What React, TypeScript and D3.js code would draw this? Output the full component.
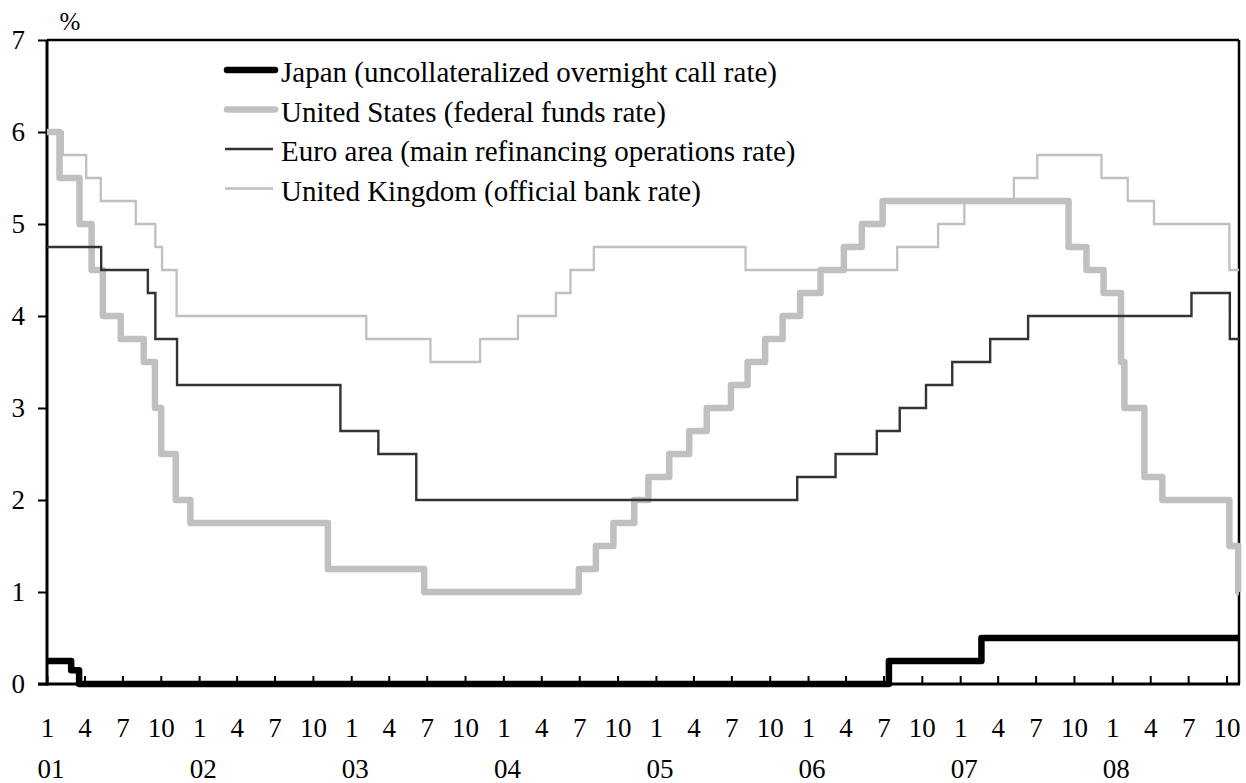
import { useEffect, useRef } from "react";
import * as d3 from "d3";

const MARGINS = {
  LEFT: 47,
  RIGHT: 7,
  TOP: 40,
  BOTTOM: 99,
};
const WIDTH = 1192; // plot width
const HEIGHT = 644; // plot height
const FONT = '"Liberation Serif", "Times New Roman", Times, serif';
const TICK_FONT_SIZE = 27;
const LEGEND_FONT_SIZE = 29;

const START_DATE = "2001-01-01";
const END_DATE = "2008-10-31";

// policy rate changes (date of change, new level in %)
const japanDates = ["2001-01-01", "2001-02-28", "2001-03-19", "2006-07-14", "2007-02-21"];
const japanRates = [0.25, 0.15, 0, 0.25, 0.5];

const usDates = [
  "2001-01-01", "2001-01-31", "2001-03-20", "2001-04-18", "2001-05-15", "2001-06-27",
  "2001-08-21", "2001-09-17", "2001-10-02", "2001-11-06", "2001-12-11", "2002-11-06",
  "2003-06-25", "2004-06-30", "2004-08-10", "2004-09-21", "2004-11-10", "2004-12-14",
  "2005-02-02", "2005-03-22", "2005-05-03", "2005-06-30", "2005-08-09", "2005-09-20",
  "2005-11-01", "2005-12-13", "2006-01-31", "2006-03-28", "2006-05-10", "2006-06-29",
  "2007-09-18", "2007-10-31", "2007-12-11", "2008-01-22", "2008-01-30", "2008-03-18",
  "2008-04-30", "2008-10-08", "2008-10-29",
];
const usRates = [
  6.0, 5.5, 5.0, 4.5, 4.0, 3.75,
  3.5, 3.0, 2.5, 2.0, 1.75, 1.25,
  1.0, 1.25, 1.5, 1.75, 2.0, 2.25,
  2.5, 2.75, 3.0, 3.25, 3.5, 3.75,
  4.0, 4.25, 4.5, 4.75, 5.0, 5.25,
  4.75, 4.5, 4.25, 3.5, 3.0, 2.25,
  2.0, 1.5, 1.0,
];

const euroDates = [
  "2001-01-01", "2001-05-11", "2001-08-31", "2001-09-18", "2001-11-09", "2002-12-06",
  "2003-03-07", "2003-06-06", "2005-12-06", "2006-03-08", "2006-06-15", "2006-08-09",
  "2006-10-11", "2006-12-13", "2007-03-14", "2007-06-13", "2008-07-09", "2008-10-09",
];
const euroRates = [
  4.75, 4.5, 4.25, 3.75, 3.25, 2.75,
  2.5, 2.0, 2.25, 2.5, 2.75, 3.0,
  3.25, 3.5, 3.75, 4.0, 4.25, 3.75,
];

const ukDates = [
  "2001-01-01", "2001-02-08", "2001-04-05", "2001-05-10", "2001-08-02", "2001-09-18",
  "2001-10-04", "2001-11-08", "2003-02-06", "2003-07-10", "2003-11-06", "2004-02-05",
  "2004-05-06", "2004-06-10", "2004-08-05", "2005-08-04", "2006-08-03", "2006-11-09",
  "2007-01-11", "2007-05-10", "2007-07-05", "2007-12-06", "2008-02-07", "2008-04-10",
  "2008-10-08",
];
const ukRates = [
  6.0, 5.75, 5.5, 5.25, 5.0, 4.75,
  4.5, 4.0, 3.75, 3.5, 3.75, 4.0,
  4.25, 4.5, 4.75, 4.5, 4.75, 5.0,
  5.25, 5.5, 5.75, 5.5, 5.25, 5.0,
  4.5,
];

const yTicks = [0, 1, 2, 3, 4, 5, 6, 7];
const monthTickLabels = ["1", "4", "7", "10"];
const yearLabels = ["01", "02", "03", "04", "05", "06", "07", "08"];
const yearStarts = ["2001-01-01", "2002-01-01", "2003-01-01", "2004-01-01", "2005-01-01", "2006-01-01", "2007-01-01", "2008-01-01"];

const legendLabels = [
  "Japan (uncollateralized overnight call rate)",
  "United States (federal funds rate)",
  "Euro area (main refinancing operations rate)",
  "United Kingdom (official bank rate)",
];

interface RatePoint {
  date: Date;
  rate: number;
}

const parse = d3.utcParse("%Y-%m-%d");

const App = () => {
  const chartRef = useRef<SVGGElement | null>(null);

  useEffect(() => {
    const g = d3.select(chartRef.current);
    g.selectAll("*").remove();

    const start = parse(START_DATE)!;
    const end = parse(END_DATE)!;

    const xScale = d3.scaleUtc().domain([start, end]).range([0, WIDTH]);
    const yScale = d3.scaleLinear().domain([0, 7]).range([HEIGHT, 0]);

    const toPoints = (dates: string[], rates: number[]): RatePoint[] => {
      const pts = dates.map((d, i) => ({ date: parse(d)!, rate: rates[i] }));
      pts.push({ date: end, rate: rates[rates.length - 1] });
      return pts;
    };

    const series = [
      { key: "uk", label: legendLabels[3], points: toPoints(ukDates, ukRates), color: "#c0c0c0", width: 2.3, cap: "butt" },
      { key: "us", label: legendLabels[1], points: toPoints(usDates, usRates), color: "#c0c0c0", width: 6.5, cap: "round" },
      { key: "euro", label: legendLabels[2], points: toPoints(euroDates, euroRates), color: "#333333", width: 2.4, cap: "butt" },
      { key: "japan", label: legendLabels[0], points: toPoints(japanDates, japanRates), color: "#000000", width: 6.5, cap: "round" },
    ];

    // y axis (ticks point outward)
    const yAxis = d3
      .axisLeft(yScale)
      .tickValues(yTicks)
      .tickSize(9)
      .tickPadding(13)
      .tickFormat((d) => String(d));
    const yG = g.append("g").call(yAxis as any);
    yG.select(".domain").remove();
    yG.selectAll("line").attr("stroke", "#000").attr("stroke-width", 2);
    yG.selectAll("text")
      .attr("font-family", FONT)
      .attr("font-size", TICK_FONT_SIZE)
      .attr("fill", "#000");

    // x axis (quarterly ticks pointing inward)
    const quarters = d3.utcMonth.every(3)!.range(start, end);
    const xAxis = d3
      .axisBottom(xScale)
      .tickValues(quarters)
      .tickSize(-8)
      .tickPadding(34)
      .tickFormat((d) => monthTickLabels[(d as Date).getUTCMonth() / 3]);
    const xG = g.append("g").attr("transform", `translate(0, ${HEIGHT})`).call(xAxis as any);
    xG.select(".domain").remove();
    xG.selectAll("line").attr("stroke", "#000").attr("stroke-width", 2);
    xG.selectAll("text")
      .attr("font-family", FONT)
      .attr("font-size", TICK_FONT_SIZE)
      .attr("fill", "#000");

    // year labels under the months
    g.selectAll(".year-label")
      .data(yearLabels)
      .join("text")
      .attr("class", "year-label")
      .attr("x", (_, i) => xScale(parse(yearStarts[i])!) + 4)
      .attr("y", HEIGHT + 94)
      .attr("text-anchor", "middle")
      .attr("font-family", FONT)
      .attr("font-size", TICK_FONT_SIZE)
      .text((d) => d);

    // frame
    g.append("line").attr("x1", 0).attr("x2", WIDTH).attr("y1", 0).attr("y2", 0)
      .attr("stroke", "#000").attr("stroke-width", 2.5);
    g.append("line").attr("x1", WIDTH).attr("x2", WIDTH).attr("y1", 0).attr("y2", HEIGHT)
      .attr("stroke", "#000").attr("stroke-width", 2.5);
    g.append("line").attr("x1", 0).attr("x2", 0).attr("y1", 0).attr("y2", HEIGHT + 1.5)
      .attr("stroke", "#000").attr("stroke-width", 3);
    g.append("line").attr("x1", -9).attr("x2", WIDTH + 1).attr("y1", HEIGHT).attr("y2", HEIGHT)
      .attr("stroke", "#000").attr("stroke-width", 3);

    // % unit
    g.append("text")
      .attr("x", 23)
      .attr("y", -10)
      .attr("text-anchor", "middle")
      .attr("font-family", FONT)
      .attr("font-size", 25)
      .text("%");

    const lineGenerator = d3
      .line<RatePoint>()
      .x((d) => xScale(d.date))
      .y((d) => yScale(d.rate))
      .curve(d3.curveStepAfter);

    series.forEach((s) => {
      g.append("path")
        .datum(s.points)
        .attr("d", lineGenerator)
        .attr("fill", "none")
        .attr("stroke", s.color)
        .attr("stroke-width", s.width)
        .attr("stroke-linejoin", s.width > 3 ? "round" : "miter");
    });

    // legend, in the order of the labels
    const legendOrder = ["japan", "us", "euro", "uk"];
    const legend = g.append("g").attr("transform", `translate(${225 - MARGINS.LEFT}, ${70 - MARGINS.TOP})`);
    legendOrder.forEach((key, i) => {
      const s = series.find((d) => d.key === key)!;
      const row = legend.append("g").attr("transform", `translate(0, ${i * 39.5})`);
      row.append("line")
        .attr("x1", s.cap === "round" ? 2 : 0)
        .attr("x2", s.cap === "round" ? 50 : 48)
        .attr("y1", 0)
        .attr("y2", 0)
        .attr("stroke", s.color)
        .attr("stroke-width", s.width)
        .attr("stroke-linecap", s.cap);
      row.append("text")
        .attr("x", 56)
        .attr("y", 12)
        .attr("font-family", FONT)
        .attr("font-size", LEGEND_FONT_SIZE)
        .text(s.label);
    });
  }, []);

  return (
    <svg
      width={WIDTH + MARGINS.LEFT + MARGINS.RIGHT}
      height={HEIGHT + MARGINS.TOP + MARGINS.BOTTOM}
      style={{ position: "absolute", left: 0, top: 0, background: "#fff" }}
    >
      <g ref={chartRef} transform={`translate(${MARGINS.LEFT}, ${MARGINS.TOP})`} />
    </svg>
  );
};

export default App;
